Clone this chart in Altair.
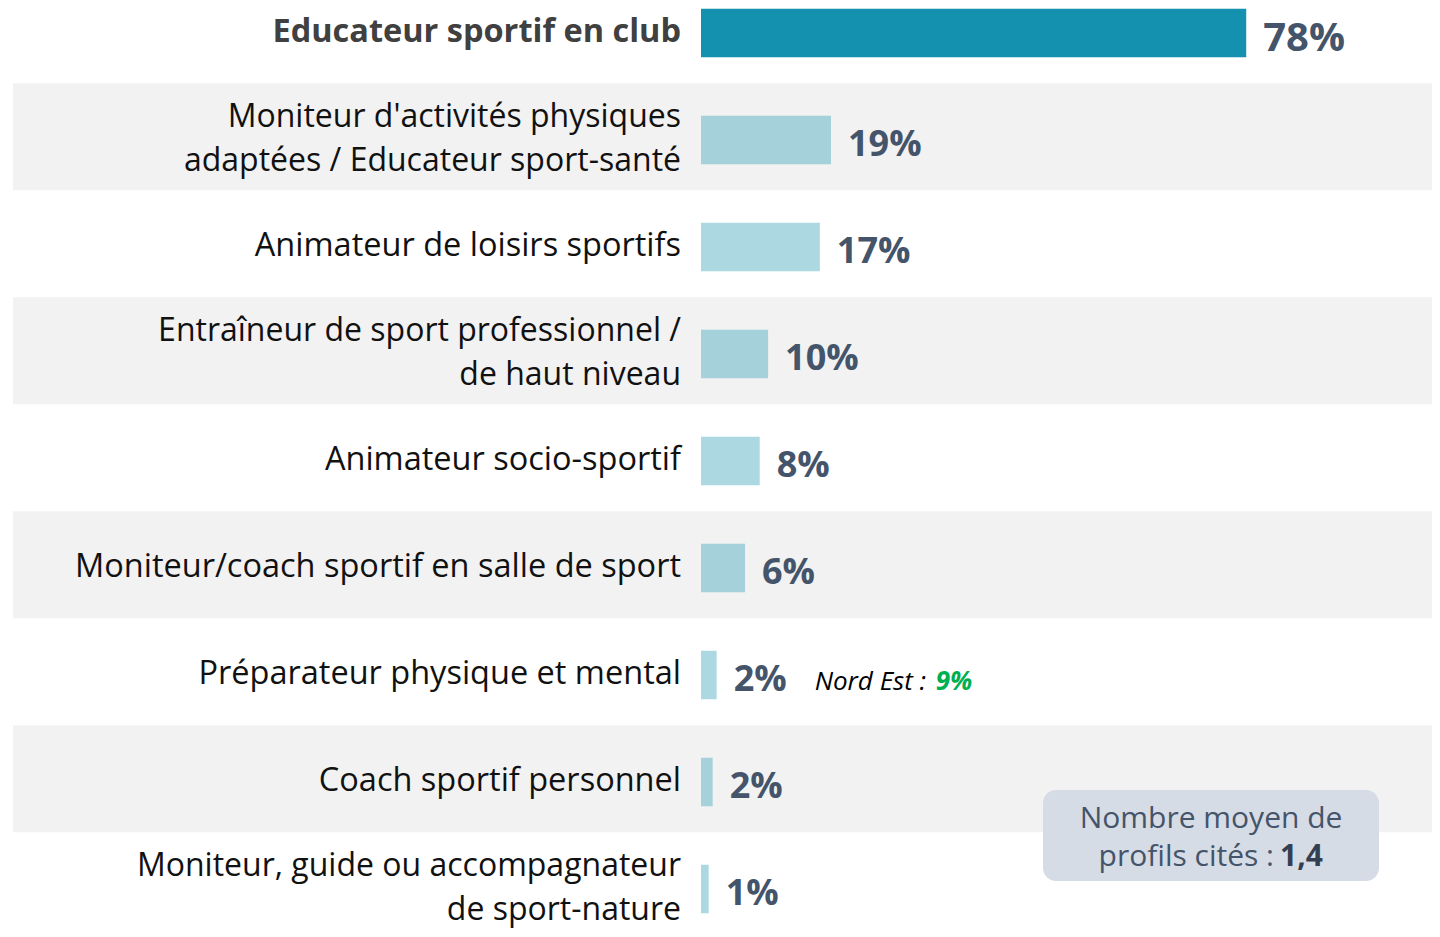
import altair as alt
import pandas as pd

# ---- data ----
categories = [
    "Educateur sportif en club",
    "Moniteur d'activités physiques\nadaptées / Educateur sport-santé",
    "Animateur de loisirs sportifs",
    "Entraîneur de sport professionnel /\nde haut niveau",
    "Animateur socio-sportif",
    "Moniteur/coach sportif en salle de sport",
    "Préparateur physique et mental",
    "Coach sportif personnel",
    "Moniteur, guide ou accompagnateur\nde sport-nature",
]
values = [78.0, 18.6, 17.0, 9.6, 8.4, 6.3, 2.24, 1.67, 1.1]
pct_labels = [78, 19, 17, 10, 8, 6, 2, 2, 1]
note_text = "Nord Est :"
note_value = "9%"
box_line1 = "Nombre moyen de"
box_line2 = "profils cités :"
box_value = "1,4"

df = pd.DataFrame({
    "row": list(range(len(categories))),
    "category": categories,
    "value": values,
    "label": [f"{p}%" for p in pct_labels],
})

# ---- layout ----
W, H = 1424, 921
PX = 6.99          # pixels per percentage point
X0 = 693           # pixel of 0 %
ROW = 107.0        # row pitch
BAR_C0 = 25.0      # pixel of first bar centre
OFF = 3.2 / ROW    # bar offset below band centre (in rows)
HALF = 24.25 / ROW
Y0 = BAR_C0 - 3.2  # pixel of first band centre
xs = alt.Scale(domain=[-X0 / PX, (W - X0) / PX], nice=False, zero=False)
ys = alt.Scale(domain=[-Y0 / ROW, (H - Y0) / ROW], nice=False, zero=False, reverse=True)

base = alt.Chart(df).transform_calculate(
    zero="0",
    yc=f"datum.row + {OFF}",
    b1=f"datum.row + {OFF} - {HALF}",
    b2=f"datum.row + {OFF} + {HALF}",
    band1="datum.row - 0.5",
    band2="datum.row + 0.5",
    multi="indexof(datum.category, '\\n') >= 0 ? 1 : 0",
)

bands = base.transform_filter("datum.row % 2 == 1").mark_rect(color="#F2F2F2").encode(
    x=alt.value(5), x2=alt.value(W),
    y=alt.Y("band1:Q", scale=ys, axis=None), y2="band2:Q",
)

bars = base.mark_rect().encode(
    x=alt.X("zero:Q", scale=xs, axis=None), x2="value:Q",
    y=alt.Y("b1:Q", scale=ys, axis=None), y2="b2:Q",
    color=alt.condition("datum.row == 0", alt.value("#1591B0"), alt.value("#48A8BE")),
    opacity=alt.condition("datum.row == 0", alt.value(1.0), alt.value(0.45)),
)

cat_bold = base.transform_filter("datum.row == 0").mark_text(
    align="right", baseline="middle", dx=-20, dy=-1.5, font="Open Sans",
    fontSize=32.5, fontWeight="bold", color="#404040",
).encode(x=alt.X("zero:Q", scale=xs), y=alt.Y("yc:Q", scale=ys), text="category:N")

cat_single = base.transform_filter("datum.row > 0 && datum.multi == 0").mark_text(
    align="right", baseline="middle", dx=-20, dy=-1.5, font="Open Sans",
    fontSize=32.5, color="#111111",
).encode(x=alt.X("zero:Q", scale=xs), y=alt.Y("yc:Q", scale=ys), text="category:N")

cat_multi = base.transform_filter("datum.multi == 1").mark_text(
    align="right", baseline="middle", dx=-20, dy=-23.5, font="Open Sans",
    fontSize=32, color="#111111", lineBreak="\n", lineHeight=44,
).encode(x=alt.X("zero:Q", scale=xs), y=alt.Y("yc:Q", scale=ys), text="category:N")

val_big = base.transform_filter("datum.row == 0").mark_text(
    align="left", baseline="middle", dx=17, dy=6, font="Open Sans",
    fontSize=40, fontWeight="bold", color="#44546A",
).encode(x=alt.X("value:Q", scale=xs), y=alt.Y("yc:Q", scale=ys), text="label:N")

val_small = base.transform_filter("datum.row > 0").mark_text(
    align="left", baseline="middle", dx=17, dy=4.6, font="Open Sans",
    fontSize=36, fontWeight="bold", color="#44546A",
).encode(x=alt.X("value:Q", scale=xs), y=alt.Y("yc:Q", scale=ys), text="label:N")

note1 = base.transform_filter("datum.row == 6").mark_text(
    align="left", baseline="middle", dx=98, dy=7, font="Open Sans",
    fontSize=26, fontStyle="italic", color="#000000",
).encode(x=alt.X("value:Q", scale=xs), y=alt.Y("yc:Q", scale=ys), text=alt.value(note_text))

note2 = base.transform_filter("datum.row == 6").mark_text(
    align="left", baseline="middle", dx=219, dy=7, font="Open Sans",
    fontSize=26, fontStyle="italic", fontWeight="bold", color="#00B050",
).encode(x=alt.X("value:Q", scale=xs), y=alt.Y("yc:Q", scale=ys), text=alt.value(note_value))

box_df = pd.DataFrame({"k": [0]})
box = alt.Chart(box_df).mark_rect(color="#D6DCE5", cornerRadius=13).encode(
    x=alt.value(1035), x2=alt.value(1371), y=alt.value(782), y2=alt.value(873),
)
box_t1 = alt.Chart(box_df).mark_text(
    align="center", baseline="middle", font="Open Sans", fontSize=30, color="#44546A",
).encode(x=alt.value(1203), y=alt.value(811), text=alt.value(box_line1))
box_t2 = alt.Chart(box_df).mark_text(
    align="right", baseline="middle", font="Open Sans", fontSize=30, color="#44546A",
).encode(x=alt.value(1266), y=alt.value(848.5), text=alt.value(box_line2))
box_t3 = alt.Chart(box_df).mark_text(
    align="left", baseline="middle", font="Open Sans", fontSize=30, fontWeight="bold",
    color="#333F50",
).encode(x=alt.value(1272), y=alt.value(848.5), text=alt.value(box_value))

chart = alt.layer(
    bands, bars, cat_bold, cat_single, cat_multi, val_big, val_small, note1, note2,
    box, box_t1, box_t2, box_t3,
).properties(
    width=W, height=H, padding=0, autosize=alt.AutoSizeParams(type="none"),
    background="white",
).configure_view(stroke=None)

chart.save("out.html", embed_options={"renderer": "svg", "actions": False})
